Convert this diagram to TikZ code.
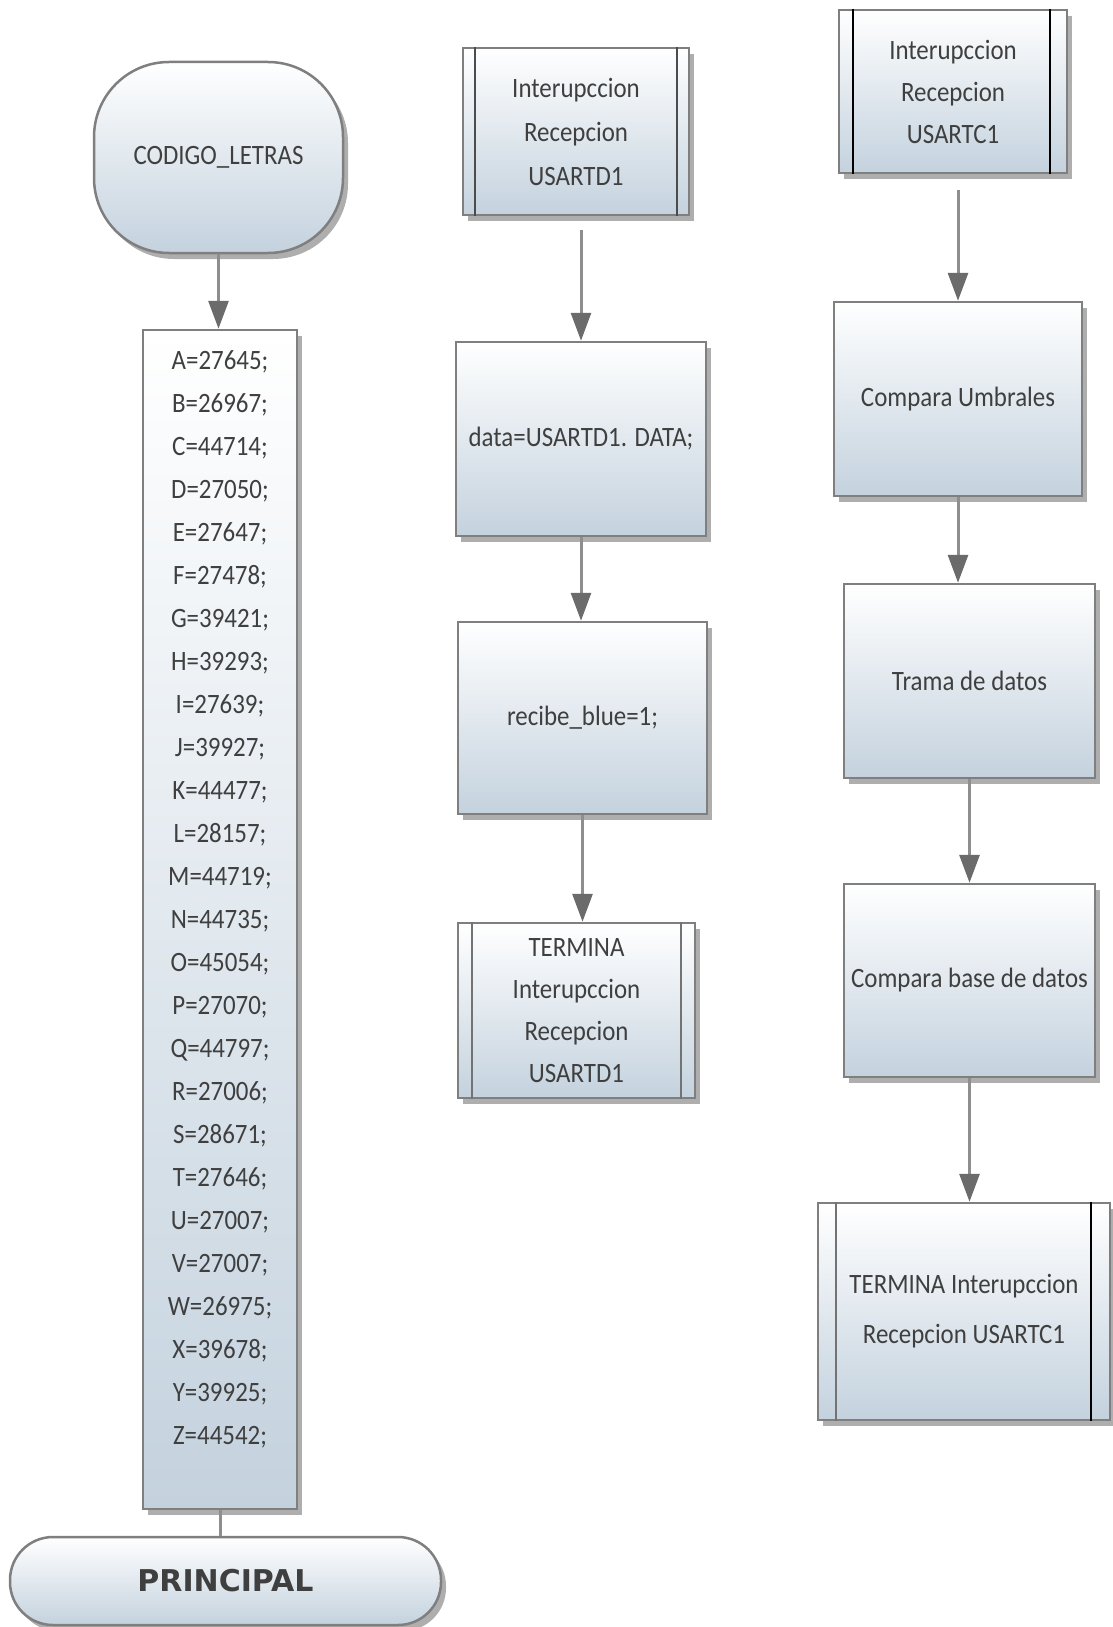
\documentclass[tikz,border=0pt]{standalone}
\usepackage{fontspec}
\setmainfont{Carlito}[FakeStretch=0.89]
\newfontfamily\fuenteprincipal{DejaVu Sans}
\usetikzlibrary{arrows.meta,shadows}

\definecolor{borde}{HTML}{7F7F7F}
\definecolor{fondo}{HTML}{C4D2DE}
\definecolor{texto}{HTML}{3F3F3F}
\definecolor{linea}{HTML}{8E8E8E}
\definecolor{punta}{HTML}{6B6B6B}

\tikzset{
  caja/.style={draw=borde, line width=2.5pt, top color=white, bottom color=fondo,
    drop shadow={shadow xshift=5pt, shadow yshift=-6pt, fill=black!45, opacity=0.7},
    text=texto, font=\fontsize{28}{44}\selectfont, align=center, inner sep=4pt},
  terminal/.style={caja, rounded corners=75pt},
  divisor/.style={line width=2pt, draw=black!70},
  flecha/.style={draw=linea, line width=3pt, -{Triangle[width=20pt,length=28pt,color=punta]}},
}

\begin{document}
\begin{tikzpicture}[x=1pt, y=-1pt]
    \useasboundingbox (0,0) rectangle (1113,1627);

    % Codigo de letras
    \node[terminal, minimum width=249pt, minimum height=191pt] (codigo) at (218.5,157.5) {CODIGO\_LETRAS};
    \node[caja, minimum width=154pt, minimum height=1179pt, inner sep=0pt,
          font=\fontsize{28}{43}\selectfont] (lista) at (220,919.5)
        {\parbox[c][1179pt][t]{150pt}{\centering\vspace*{21pt}%
        A=27645;\\ B=26967;\\ C=44714;\\ D=27050;\\ E=27647;\\ F=27478;\\
        G=39421;\\ H=39293;\\ I=27639;\\ J=39927;\\ K=44477;\\ L=28157;\\
        M=44719;\\ N=44735;\\ O=45054;\\ P=27070;\\ Q=44797;\\ R=27006;\\
        S=28671;\\ T=27646;\\ U=27007;\\ V=27007;\\ W=26975;\\ X=39678;\\
        Y=39925;\\ Z=44542;}};
    \node[caja, rounded corners=43pt, minimum width=431pt, minimum height=88pt,
          font=\fuenteprincipal\bfseries\fontsize{30}{36}\selectfont] (principal) at (225.5,1581) {PRINCIPAL};

    \draw[flecha] (codigo.south) -- (codigo.south |- lista.north);
    \draw[draw=linea, line width=3pt] (lista.south) -- (lista.south |- principal.north);

    % Interrupcion USARTD1
    \node[caja, minimum width=226pt, minimum height=167pt] (intD) at (576,131.5) {Interupccion\\Recepcion\\USARTD1};
    \draw[divisor] ([xshift=13pt]intD.north west) -- ([xshift=13pt]intD.south west);
    \draw[divisor] ([xshift=-13pt]intD.north east) -- ([xshift=-13pt]intD.south east);
    \node[caja, minimum width=250pt, minimum height=194pt] (dataD) at (581,439) {data=USARTD1. DATA;};
    \node[caja, minimum width=249pt, minimum height=192pt] (recibe) at (582.5,718) {recibe\_blue=1;};
    \node[caja, minimum width=237pt, minimum height=175pt, font=\fontsize{28}{42}\selectfont] (terminaD) at (576.5,1010.5) {TERMINA\\Interupccion\\Recepcion\\USARTD1};
    \draw[divisor, draw=black!55] ([xshift=15pt]terminaD.north west) -- ([xshift=15pt]terminaD.south west);
    \draw[divisor, draw=black!55] ([xshift=-15pt]terminaD.north east) -- ([xshift=-15pt]terminaD.south east);

    \draw[flecha, shorten <=14pt] (dataD.north |- intD.south) -- (dataD.north);
    \draw[flecha] (dataD.south) -- (dataD.south |- recibe.north);
    \draw[flecha] (recibe.south) -- (recibe.south |- terminaD.north);

    % Interrupcion USARTC1
    \node[caja, minimum width=228pt, minimum height=163pt, font=\fontsize{28}{42}\selectfont] (intC) at (953,91.5) {Interupccion\\Recepcion\\USARTC1};
    \draw[divisor, draw=black] ([xshift=15pt]intC.north west) -- ([xshift=15pt]intC.south west);
    \draw[divisor, draw=black] ([xshift=-18pt]intC.north east) -- ([xshift=-18pt]intC.south east);
    \node[caja, minimum width=248pt, minimum height=194pt] (umbrales) at (958,399) {Compara Umbrales};
    \node[caja, minimum width=251pt, minimum height=194pt] (trama) at (969.5,681) {Trama de datos};
    \node[caja, minimum width=251pt, minimum height=193pt] (base) at (969.5,980.5) {Compara base de datos};
    \node[caja, minimum width=292pt, minimum height=217pt, font=\fontsize{28}{50}\selectfont] (terminaC) at (964,1311.5) {TERMINA Interupccion\\Recepcion USARTC1};
    \draw[divisor, draw=black!55] ([xshift=19pt]terminaC.north west) -- ([xshift=19pt]terminaC.south west);
    \draw[divisor, draw=black] ([xshift=-20pt]terminaC.north east) -- ([xshift=-20pt]terminaC.south east);

    \draw[flecha, shorten <=16pt] (umbrales.north |- intC.south) -- (umbrales.north);
    \draw[flecha] (umbrales.south) -- (umbrales.south |- trama.north);
    \draw[flecha] (trama.south) -- (base.north);
    \draw[flecha] (base.south) -- (base.south |- terminaC.north);
\end{tikzpicture}
\end{document}
